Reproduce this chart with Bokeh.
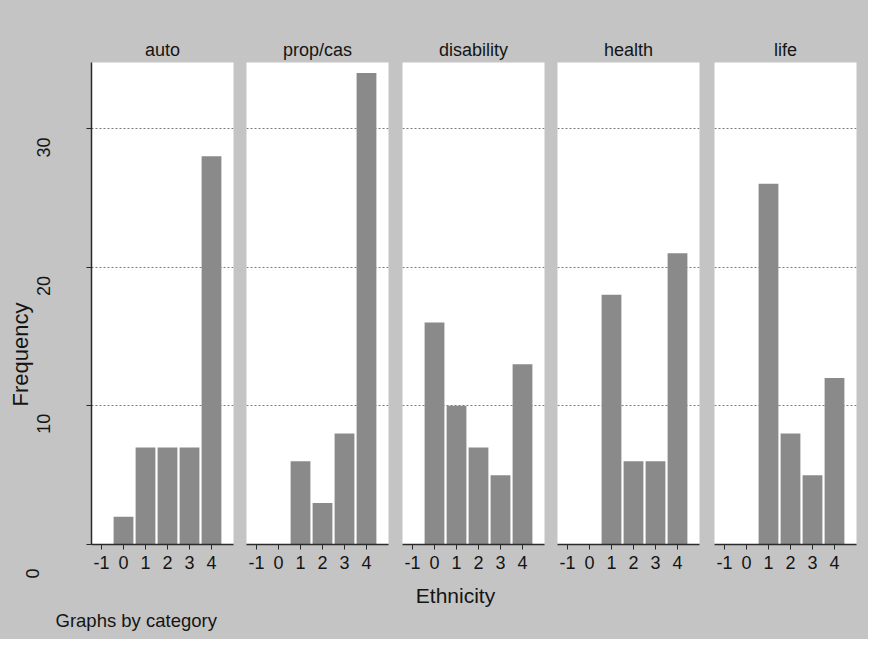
import math
from bokeh.plotting import figure
from bokeh.layouts import row, column
from bokeh.models import Range1d, FixedTicker, Grid, Label, Plot
from bokeh.core.properties import value
from bokeh.embed import file_html
from bokeh.resources import INLINE

# ---- data ----
categories = ["auto", "prop/cas", "disability", "health", "life"]
ethnicity = [-1, 0, 1, 2, 3, 4]
auto = [0, 2, 7, 7, 7, 28]
prop_cas = [0, 0, 6, 3, 8, 34]
disability = [0, 16, 10, 7, 5, 13]
health = [0, 0, 18, 6, 6, 21]
life = [0, 0, 26, 8, 5, 12]
y_ticks = [0, 10, 20, 30]
y_tick_labels = ["0", "10", "20", "30"]
grid_ticks = [10, 20, 30]
x_tick_labels = ["-1", "0", "1", "2", "3", "4"]
series = [auto, prop_cas, disability, health, life]

# ---- style ----
BG = "#c4c4c4"
BAR = "#8a8a8a"
TXT = "#141414"
FONT = "Liberation Sans"
AXC = "#2a2a2a"
label_dx = [-11, 0, 0, 0]      # screen offsets of the rotated y tick labels
label_dy = [29, 18, 19, 19]

HAS_FA = "frame_align" in Plot.properties()

XR = (-1.455, 5.0)
YR = (0, 34.75)
left_b = [5 if HAS_FA else 91, 0, 0, 0, 0]
right_b = [13, 14, 13, 15, 12]

panels = []
for i, (cat, vals) in enumerate(zip(categories, series)):
    p = figure(frame_width=142, frame_height=482,
               min_border_left=left_b[i], min_border_right=right_b[i],
               min_border_top=62, min_border_bottom=41,
               x_range=Range1d(*XR), y_range=Range1d(*YR),
               y_axis_location="left" if i == 0 else None,
               title=cat, toolbar_location=None, output_backend="svg")
    p.center = []
    p.add_layout(Grid(dimension=1, ticker=FixedTicker(ticks=grid_ticks),
                      grid_line_color="#7a7a7a", grid_line_dash="2 2",
                      grid_line_width=1), "center")
    p.background_fill_color = "white"
    p.border_fill_color = BG
    p.outline_line_color = None
    p.title.align = "center"
    p.title.text_font = FONT
    p.title.text_font_size = "18px"
    p.title.text_font_style = "normal"
    p.title.text_color = TXT
    p.title.standoff = 5

    p.vbar(x=ethnicity, top=vals, width=0.9, bottom=0,
           fill_color=BAR, line_color=None)

    xa = p.xaxis[0]
    xa.ticker = FixedTicker(ticks=ethnicity)
    xa.major_label_overrides = {v: s for v, s in zip(ethnicity, x_tick_labels)}
    xa.axis_line_color = AXC
    xa.axis_line_width = 1.5
    xa.major_tick_out = 5
    xa.major_tick_in = 0
    xa.major_tick_line_color = AXC
    xa.minor_tick_out = 0
    xa.minor_tick_in = 0
    xa.major_label_standoff = 6
    xa.major_label_text_font = FONT
    xa.major_label_text_font_size = "18px"
    xa.major_label_text_color = TXT

    if i == 0:
        yb = p.yaxis[0]
        yb.ticker = FixedTicker(ticks=y_ticks)
        yb.axis_line_color = AXC
        yb.axis_line_width = 1.5
        yb.major_tick_out = 5
        yb.major_tick_in = 0
        yb.major_tick_line_color = AXC
        yb.minor_tick_out = 0
        yb.minor_tick_in = 0
        if HAS_FA:
            yb.major_label_overrides = {v: "" for v in y_ticks}
            yb.major_label_text_font_size = "0px"
            yb.major_label_standoff = 0
        else:
            yb.major_label_overrides = {v: s for v, s in zip(y_ticks, y_tick_labels)}
            yb.major_label_orientation = "vertical"
            yb.major_label_standoff = 33
            yb.major_label_text_font = FONT
            yb.major_label_text_font_size = "18px"
            yb.major_label_text_color = TXT
            yb.axis_label = "Frequency"
            yb.axis_label_text_font = FONT
            yb.axis_label_text_font_size = "22px"
            yb.axis_label_text_font_style = "normal"
            yb.axis_label_text_color = TXT
            yb.axis_label_standoff = 0
    panels.append(p)

children = list(panels)
if HAS_FA:
    # left strip: rotated tick labels and the y title, on the same value scale
    k = 482 / (YR[1] - YR[0])
    s = YR[0] - 41 / k
    e = s + 585 / k
    f_ylab = figure(frame_width=86, frame_height=585, min_border=0,
                    x_range=Range1d(0, 86), y_range=Range1d(s, e),
                    x_axis_location=None, y_axis_location=None,
                    toolbar_location=None, output_backend="svg")
    f_ylab.frame_align = False
    f_ylab.center = []
    f_ylab.background_fill_color = BG
    f_ylab.border_fill_color = BG
    f_ylab.outline_line_color = None
    f_ylab.text(x=[43] * len(y_ticks), y=y_ticks, text=y_tick_labels,
                angle=math.pi / 2, x_offset=label_dx, y_offset=label_dy,
                text_align="center", text_baseline="middle",
                text_font=value(FONT), text_font_size="18px", text_color=TXT)
    f_ylab.text(x=[20], y=[13.7], text=["Frequency"], angle=math.pi / 2,
                text_align="center", text_baseline="middle",
                text_font=value(FONT), text_font_size="22px", text_color=TXT)
    children = [f_ylab] + children

# bottom strip with the shared axis title and note
f_bot = figure(frame_width=868, frame_height=54, min_border=0,
               x_range=Range1d(0, 868), y_range=Range1d(0, 54),
               x_axis_location=None, y_axis_location=None,
               toolbar_location=None, output_backend="svg")
f_bot.center = []
f_bot.background_fill_color = BG
f_bot.border_fill_color = BG
f_bot.outline_line_color = None
f_bot.add_layout(Label(x=455, y=44, text="Ethnicity", text_align="center",
                       text_baseline="middle", text_font=FONT,
                       text_font_size="21px", text_color=TXT))
f_bot.add_layout(Label(x=55, y=19, text="Graphs by category", text_align="left",
                       text_baseline="middle", text_font=FONT,
                       text_font_size="18.5px", text_color=TXT))

top_row = row(*children, spacing=0, styles={"background-color": BG})
layout = column(top_row, f_bot, spacing=0, styles={"background-color": BG})

open("out.html", "w").write(file_html(layout, INLINE))
